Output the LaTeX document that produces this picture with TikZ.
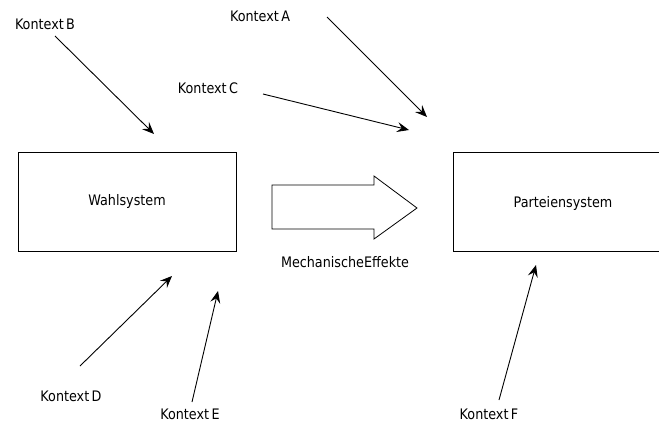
\documentclass[tikz,border=0pt]{standalone}
\usepackage{fontspec}
\setmainfont[FakeStretch=0.88,WordSpace=0.6]{DejaVu Sans}
\usetikzlibrary{arrows.meta}
\begin{document}
\begin{tikzpicture}[x=1pt,y=-1pt,
  lbl/.style={font=\fontsize{14.5}{16}\selectfont, inner sep=0pt},
  sysbox/.style={draw, line width=0.8pt, minimum width=218pt, minimum height=99pt, inner sep=0pt, font=\fontsize{14.5}{16}\selectfont},
  ctx/.style={line width=0.9pt, -{Stealth[length=12pt,width=10pt,inset=4.5pt]}}]
\useasboundingbox (0,0) rectangle (659,423);
\clip (0,0) rectangle (659,423);
\node[sysbox] (wahl) at (127,201.5) {Wahlsystem};
\node[sysbox, minimum width=230pt] (partei) at (568,201.5) {};
\node[lbl] (parteitext) at (563,203) {Parteiensystem};
\draw[line width=0.8pt, line join=miter] (272,185) -- (374,185) -- (374,176) -- (417,208) -- (374,239) -- (374,229) -- (272,229) -- cycle;
\node[lbl] (mech) at (345,262) {MechanischeEffekte};
\node[lbl] (ka) at (260,16) {Kontext A};
\node[lbl] (kb) at (45,24) {Kontext B};
\node[lbl] (kc) at (208,88) {Kontext C};
\node[lbl] (kd) at (71,396) {Kontext D};
\node[lbl] (ke) at (190,414) {Kontext E};
\node[lbl] (kf) at (489,414) {Kontext F};
\coordinate (a0) at (327,17); \coordinate (a1) at (427,117);
\coordinate (b0) at (55,36); \coordinate (b1) at (154,134);
\coordinate (c0) at (263,94); \coordinate (c1) at (409,130);
\coordinate (d0) at (80,366); \coordinate (d1) at (172,276);
\coordinate (e0) at (192,402); \coordinate (e1) at (218,291);
\coordinate (f0) at (499,400); \coordinate (f1) at (536,265);
\draw[ctx] (a0) -- (a1);
\draw[ctx] (b0) -- (b1);
\draw[ctx] (c0) -- (c1);
\draw[ctx] (d0) -- (d1);
\draw[ctx] (e0) -- (e1);
\draw[ctx] (f0) -- (f1);
\end{tikzpicture}
\end{document}
